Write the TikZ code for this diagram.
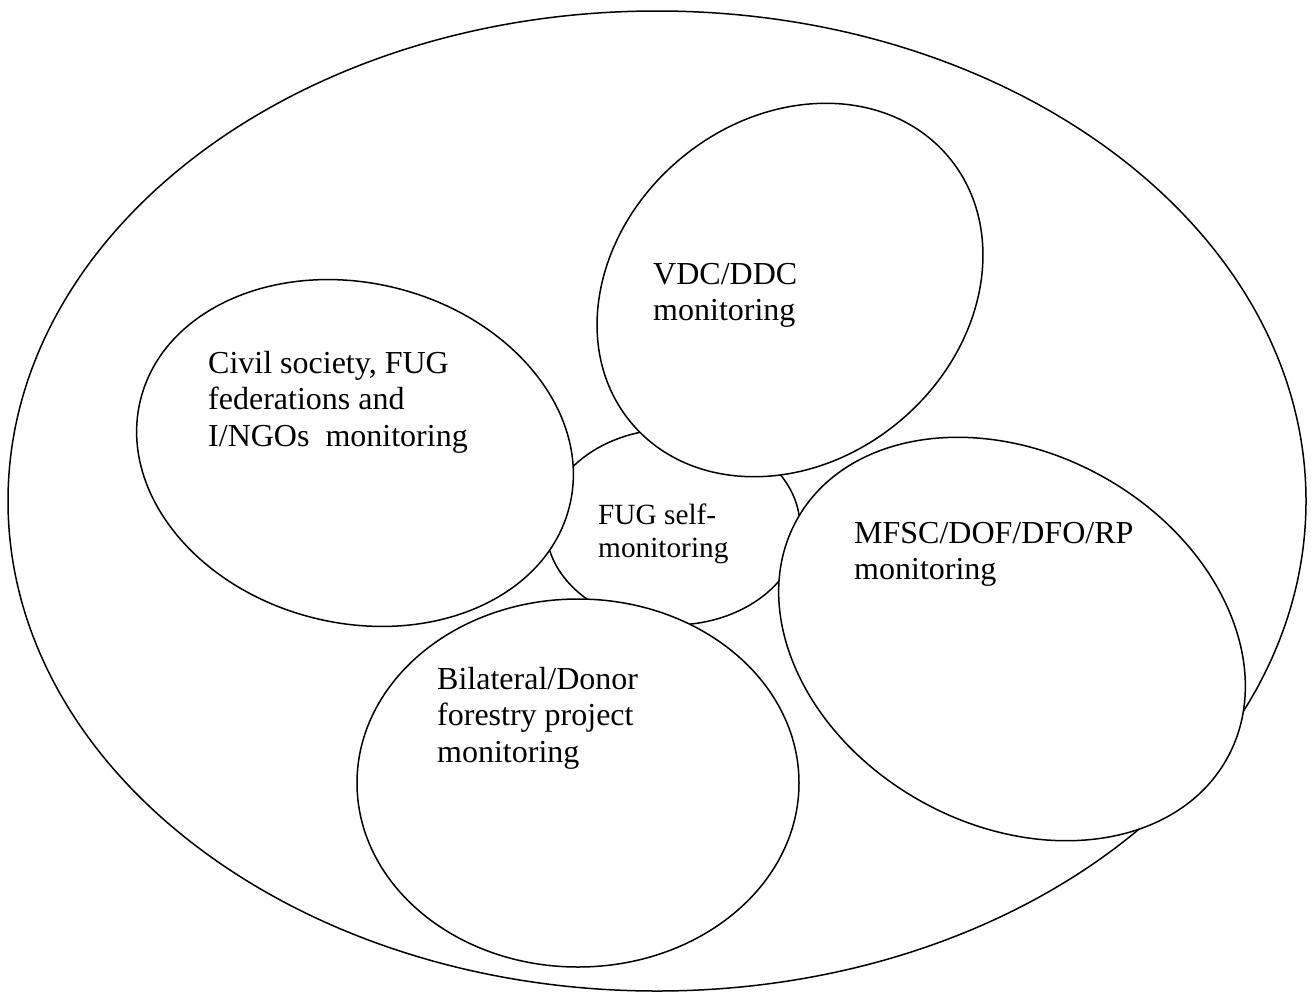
\documentclass[tikz,border=0pt]{standalone}
\usepackage{fontspec}
\setmainfont{Liberation Serif}
\begin{document}
\begin{tikzpicture}[x=1pt,y=-1pt,
  ring/.style={draw=black,line width=1.5pt,fill=white},
  bigtxt/.style={inner sep=0pt,anchor=base west,font=\fontsize{32}{36.7}\selectfont},
  smalltxt/.style={inner sep=0pt,anchor=base west,font=\fontsize{29.3}{33}\selectfont}]
\useasboundingbox (0,0) rectangle (1314,994);
% outer ellipse
\draw[ring] (657,501) ellipse [x radius=649, y radius=490];
% FUG self-monitoring (lowest)
\draw[ring] (673,527) ellipse [x radius=127, y radius=98];
% Civil society
\begin{scope}[shift={(355,453)},rotate=-14]
\draw[ring] (0,0) ellipse [x radius=221, y radius=170];
\end{scope}
% VDC/DDC
\begin{scope}[shift={(790,290)},rotate=40]
\draw[ring] (0,0) ellipse [x radius=207, y radius=171];
\end{scope}
% Bilateral
\draw[ring] (578,783) ellipse [x radius=221, y radius=184];
% MFSC
\begin{scope}[shift={(1012,639)},rotate=-29]
\draw[ring] (0,0) ellipse [x radius=246, y radius=186];
\end{scope}
% labels
\node[smalltxt] (fug) at (598,524) {\vtop{\hbox{FUG self-}\hbox{monitoring}}};
\node[bigtxt] (civ) at (208,373) {\vtop{\hbox{Civil society, FUG}\hbox{federations and}\hbox{I/NGOs\ \ monitoring}}};
\node[bigtxt] (vdc) at (653,284) {\vtop{\hbox{VDC/DDC}\hbox{monitoring}}};
\node[bigtxt] (bil) at (437,689) {\vtop{\hbox{Bilateral/Donor}\hbox{forestry project}\hbox{monitoring}}};
\node[bigtxt] (mfsc) at (854,543) {\vtop{\hbox{MFSC/DOF/DFO/RP}\hbox{monitoring}}};
\end{tikzpicture}
\end{document}
